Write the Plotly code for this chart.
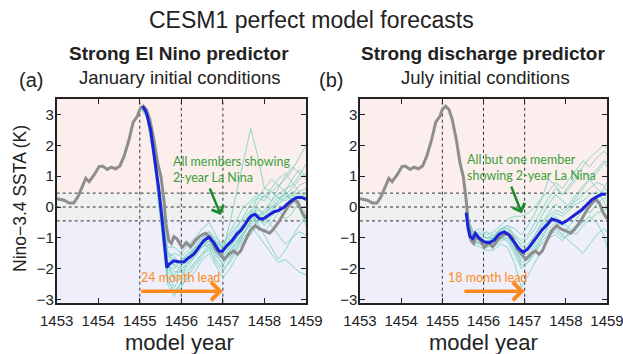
import plotly.graph_objects as go

W, H = 623, 354

# ---------------- data ----------------
years = [1453, 1454, 1455, 1456, 1457, 1458, 1459]
yticks = [-3, -2, -1, 0, 1, 2, 3]

# observed (truth) Nino-3.4 SSTA, same in both panels
truth_x = [1453.0, 1453.18, 1453.3, 1453.41, 1453.51, 1453.62, 1453.70, 1453.78, 1453.9, 1454.02,
           1454.1, 1454.22, 1454.31, 1454.42, 1454.52, 1454.62, 1454.74, 1454.84, 1454.94, 1455.0,
           1455.08, 1455.16, 1455.24, 1455.34, 1455.43, 1455.51, 1455.58, 1455.63, 1455.70, 1455.76,
           1455.82, 1455.9, 1456.02, 1456.12, 1456.22, 1456.34, 1456.46, 1456.58, 1456.70, 1456.82,
           1456.94, 1457.03, 1457.14, 1457.26, 1457.35, 1457.43, 1457.54, 1457.66, 1457.78, 1457.88,
           1457.98, 1458.12, 1458.22, 1458.34, 1458.46, 1458.56, 1458.66, 1458.74, 1458.82, 1458.9, 1459.0]
truth_y = [0.27, 0.22, 0.13, 0.13, 0.33, 0.65, 0.93, 0.82, 1.04, 1.31,
           1.33, 1.22, 1.29, 1.24, 1.33, 1.64, 2.18, 2.75, 2.94, 3.16,
           3.27, 3.16, 2.84, 2.18, 1.42, 0.98, 0.22, -0.55, -1.09, -1.18,
           -0.96, -1.04, -1.31, -1.15, -1.29, -1.07, -0.93, -0.85, -0.98, -1.36,
           -1.53, -1.69, -1.53, -1.42, -1.53, -1.42, -1.09, -0.76, -0.60, -0.71,
           -0.76, -0.85, -0.71, -0.49, -0.22, 0.0, 0.16, 0.24, 0.11, -0.16, -0.38]

# ensemble mean, panel (a): January initial conditions
mean_a_x = [1455.07, 1455.16, 1455.26, 1455.35, 1455.45, 1455.53, 1455.59, 1455.65, 1455.71, 1455.82,
            1455.94, 1456.06, 1456.18, 1456.30, 1456.42, 1456.54, 1456.66, 1456.78, 1456.9, 1456.98,
            1457.10, 1457.22, 1457.34, 1457.43, 1457.54, 1457.62, 1457.70, 1457.78, 1457.88, 1457.98,
            1458.10, 1458.22, 1458.34, 1458.46, 1458.56, 1458.66, 1458.78, 1458.9, 1459.0]
mean_a_y = [3.27, 3.05, 2.5, 1.64, 0.65, -0.33, -1.2, -1.96, -1.85, -1.74,
            -1.77, -1.78, -1.64, -1.53, -1.31, -1.09, -0.98, -1.15, -1.42, -1.44,
            -1.25, -1.09, -0.87, -0.76, -0.55, -0.38, -0.27, -0.24, -0.38, -0.38,
            -0.27, -0.16, -0.11, -0.02, 0.11, 0.22, 0.31, 0.31, 0.25]

# ensemble mean, panel (b): July initial conditions
mean_b_x = [1455.58, 1455.62, 1455.67, 1455.74, 1455.80, 1455.90, 1456.02, 1456.14, 1456.26, 1456.38,
            1456.50, 1456.62, 1456.74, 1456.86, 1456.96, 1457.06, 1457.18, 1457.30, 1457.42, 1457.54,
            1457.66, 1457.79, 1457.91, 1458.03, 1458.15, 1458.27, 1458.39, 1458.51, 1458.63, 1458.75,
            1458.87, 1458.97]
mean_b_y = [-0.18, -0.64, -0.96, -1.02, -0.85, -1.02, -1.13, -1.16, -1.07, -0.88,
            -0.80, -0.91, -1.13, -1.35, -1.46, -1.38, -1.18, -0.96, -0.74, -0.58,
            -0.39, -0.44, -0.53, -0.44, -0.31, -0.20, -0.09, 0.08, 0.24, 0.33,
            0.41, 0.41]

# ensemble members, panel (a)
members_a_x = [1455.0, 1455.17, 1455.33, 1455.5, 1455.67, 1455.83, 1456.0, 1456.17, 1456.33, 1456.5,
               1456.67, 1456.83, 1457.0, 1457.17, 1457.33, 1457.5, 1457.67, 1457.83, 1458.0, 1458.17,
               1458.33, 1458.5, 1458.67, 1458.83, 1459.0]
member_a01 = [3.27, 3.0, 1.9, 0.1, -1.6, -1.5, -1.6, -1.4, -1.2, -0.9, -0.8, -1.1, -1.3, -1.0, -0.7, -0.3, 0.1, 0.3, 0.2, 0.5, 0.7, 0.9, 1.2, 1.6, 2.0]
member_a02 = [3.27, 2.95, 1.7, -0.2, -2.2, -2.6, -2.2, -2.0, -1.8, -1.5, -1.4, -1.7, -2.0, -1.8, -1.4, -1.1, -0.9, -0.6, -0.8, -0.5, -0.2, 0.0, 0.3, 0.5, 0.6]
member_a03 = [3.27, 3.05, 2.0, 0.3, -1.3, -1.3, -1.5, -1.2, -1.0, -0.7, -0.5, -0.9, -1.4, -0.5, 0.5, 1.5, 2.55, 1.7, 0.6, 0.5, 0.3, 0.4, 0.2, 0.1, -0.2]
member_a04 = [3.27, 2.9, 1.6, -0.4, -2.5, -2.9, -2.4, -2.1, -1.8, -1.5, -1.2, -1.6, -1.8, -1.4, -1.1, -0.8, -0.6, -0.9, -1.2, -1.5, -1.8, -1.7, -1.9, -2.1, -2.2]
member_a05 = [3.27, 3.0, 1.8, 0.0, -1.9, -2.0, -1.7, -1.5, -1.3, -1.0, -0.8, -1.0, -1.2, -0.8, -0.4, 0.0, 0.2, 0.4, 0.3, 0.6, 0.9, 1.1, 0.8, 0.5, 0.3]
member_a06 = [3.27, 2.95, 1.75, -0.1, -2.1, -2.3, -2.0, -1.8, -1.6, -1.2, -1.1, -1.5, -1.7, -1.4, -1.2, -0.9, -0.5, -0.2, -0.4, -0.1, 0.2, 0.4, 0.6, 0.9, 1.1]
member_a07 = [3.27, 3.0, 1.85, 0.2, -1.5, -1.6, -1.9, -1.7, -1.4, -1.1, -0.9, -1.2, -1.5, -1.2, -0.9, -0.6, -0.4, 0.0, -0.3, -0.6, -0.9, -1.2, -1.0, -0.8, -0.9]
member_a08 = [3.27, 2.9, 1.65, -0.3, -2.4, -2.7, -2.5, -2.3, -2.1, -1.7, -1.5, -1.9, -2.3, -2.0, -1.6, -1.2, -0.8, -0.4, -0.5, -0.2, 0.1, 0.3, 0.5, 0.4, 0.2]
member_a09 = [3.27, 3.05, 1.95, 0.2, -1.7, -1.8, -1.8, -1.5, -1.4, -1.1, -1.0, -1.3, -1.6, -1.3, -1.0, -0.7, -0.5, -0.3, -0.1, 0.2, 0.4, 0.6, 0.7, 1.0, 1.4]
member_a10 = [3.27, 3.0, 1.8, 0.0, -2.0, -2.2, -1.9, -1.7, -1.5, -1.2, -1.1, -1.4, -1.5, -1.1, -0.8, -0.5, -0.2, -0.5, -0.9, -1.3, -1.7, -1.4, -1.0, -0.6, -0.4]
member_a11 = [3.27, 2.95, 1.7, -0.2, -2.3, -2.8, -2.6, -2.2, -1.9, -1.6, -1.3, -1.5, -1.9, -1.5, -1.2, -0.8, -0.6, -0.3, -0.2, 0.1, 0.3, 0.2, 0.4, 0.7, 0.8]
member_a12 = [3.27, 3.0, 1.9, 0.1, -1.8, -1.9, -1.7, -1.6, -1.3, -1.0, -0.9, -1.1, -1.4, -1.2, -0.9, -0.7, -0.3, -0.1, -0.2, 0.0, 0.1, 0.3, 0.4, 0.3, 0.4]
member_a13 = [3.27, 2.95, 1.8, 0.0, -1.9, -2.1, -2.1, -1.9, -1.6, -1.3, -1.2, -1.4, -1.6, -1.3, -1.0, -0.6, -0.2, 0.3, 0.6, 0.9, 0.7, 0.5, 0.2, 0.0, -0.6]
member_a14 = [3.27, 3.0, 1.85, 0.1, -1.6, -1.7, -1.8, -1.6, -1.4, -1.1, -1.0, -1.3, -1.7, -1.6, -1.3, -1.0, -0.7, -0.5, -0.3, 0.0, 0.2, 0.5, 0.9, 1.2, 1.0]
member_a15 = [3.27, 2.95, 1.75, -0.1, -1.8, -2.4, -2.3, -1.7, -1.3, -1.2, -1.3, -1.8, -2.1, -1.7, -1.3, -0.9, -0.4, 0.1, 0.4, 0.2, 0.6, 1.0, 1.3, 1.1, 0.9]
member_a16 = [3.27, 3.0, 1.85, 0.05, -1.4, -1.9, -2.0, -1.8, -1.5, -1.3, -1.1, -1.2, -1.2, -0.9, -0.6, -0.4, -0.1, -0.3, -0.6, -0.3, -0.1, -0.4, -0.2, 0.2, 0.5]
members_a = [member_a01, member_a02, member_a03, member_a04, member_a05, member_a06, member_a07,
             member_a08, member_a09, member_a10, member_a11, member_a12, member_a13, member_a14,
             member_a15, member_a16]

# ensemble members, panel (b)
members_b_x = [1455.58, 1455.75, 1455.92, 1456.08, 1456.25, 1456.42, 1456.58, 1456.75, 1456.92, 1457.08,
               1457.25, 1457.42, 1457.58, 1457.75, 1457.92, 1458.08, 1458.25, 1458.42, 1458.58, 1458.75,
               1458.92, 1459.0]
member_b01 = [-0.18, -0.9, -0.8, -1.0, -1.0, -0.7, -0.6, -0.9, -1.1, -0.9, -0.5, -0.1, 0.3, 0.6, 0.4, 0.7, 1.0, 1.3, 1.6, 1.8, 2.0, 1.9]
member_b02 = [-0.18, -1.1, -1.2, -1.3, -1.2, -1.0, -1.0, -1.4, -1.9, -1.8, -1.5, -1.1, -0.9, -0.8, -1.0, -0.9, -0.7, -0.5, -0.3, -0.5, -0.9, -1.3]
member_b03 = [-0.18, -0.8, -0.7, -0.9, -0.8, -0.6, -0.4, -0.3, -0.3, -0.2, 0.0, 0.3, 0.5, 0.8, 0.6, 0.9, 1.2, 1.5, 1.3, 1.6, 1.8, 1.7]
member_b04 = [-0.18, -1.2, -1.3, -1.4, -1.4, -1.2, -1.3, -1.8, -2.6, -2.2, -1.8, -1.4, -1.0, -0.7, -0.9, -0.6, -0.4, -0.1, 0.2, 0.3, 0.5, 0.4]
member_b05 = [-0.18, -1.0, -1.1, -1.1, -1.0, -0.8, -0.9, -1.2, -1.5, -1.3, -0.9, -0.6, -0.3, -0.1, -0.2, 0.0, 0.2, 0.4, 0.6, 0.8, 0.7, 0.5]
member_b06 = [-0.18, -1.05, -1.0, -1.2, -1.3, -1.1, -1.0, -1.3, -1.7, -1.6, -1.3, -1.0, -0.8, -0.7, -0.9, -1.1, -1.3, -1.5, -1.2, -0.9, -0.7, -0.8]
member_b07 = [-0.18, -0.95, -1.0, -1.0, -0.9, -0.7, -0.7, -1.0, -1.2, -1.0, -0.7, -0.3, 0.1, 0.4, 0.2, 0.0, 0.3, 0.6, 0.9, 1.1, 1.4, 1.5]
member_b08 = [-0.18, -1.1, -1.15, -1.2, -1.1, -0.9, -0.9, -1.2, -1.6, -1.5, -1.2, -0.9, -0.7, -0.5, -0.6, -0.4, -0.2, 0.0, -0.2, 0.1, 0.3, 0.2]
member_b09 = [-0.18, -1.0, -1.1, -1.3, -1.2, -1.0, -1.1, -1.5, -2.0, -1.8, -1.4, -1.0, -0.6, -0.3, -0.5, -0.7, -0.9, -0.6, -0.4, -0.2, -0.1, 0.0]
member_b10 = [-0.18, -0.9, -0.95, -1.0, -1.0, -0.7, -0.7, -0.9, -1.3, -1.2, -0.9, -0.5, -0.2, 0.1, -0.1, 0.1, 0.4, 0.7, 0.9, 0.6, 0.4, 0.3]
member_b11 = [-0.18, -1.15, -1.2, -1.1, -1.2, -1.0, -0.9, -1.3, -1.8, -1.7, -1.4, -1.2, -1.0, -0.9, -1.1, -0.8, -0.6, -0.3, 0.0, 0.3, 0.6, 0.8]
member_b12 = [-0.18, -1.0, -1.05, -1.15, -1.0, -0.8, -0.8, -1.1, -1.4, -1.3, -1.0, -0.7, -0.4, -0.2, -0.3, -0.1, 0.1, 0.2, 0.4, 0.5, 0.2, -0.1]
member_b13 = [-0.18, -0.85, -0.9, -0.8, -0.95, -0.75, -0.6, -0.7, -0.9, -0.6, -0.2, 0.3, 0.9, 0.7, 0.4, 0.6, 0.9, 1.1, 1.0, 1.2, 1.5, 1.3]
members_b = [member_b01, member_b02, member_b03, member_b04, member_b05, member_b06,
             member_b07, member_b08, member_b09, member_b10, member_b11, member_b12, member_b13]

# ---------------- styling ----------------
TEAL = "#7fd3c2"
BLUE = "#1c22d8"
GRAY = "#8e8e8e"
ORANGE = "#ff8a1c"
GREEN_TXT = "#3aa13a"
GREEN_ARR = "#1b8a2a"
FONT = "Liberation Sans, Arial, sans-serif"
ANNFONT = "Lato, sans-serif"

XRANGE = [1453, 1459]
YRANGE = [-3.1, 3.5]
XDOM_A = [56.7 / W, 306 / W]
XDOM_B = [360 / W, 607 / W]
YDOM = [(H - 302.7) / H, (H - 99) / H]

fig = go.Figure()

panels = [("x", "y", members_a_x, members_a, mean_a_x, mean_a_y),
          ("x2", "y2", members_b_x, members_b, mean_b_x, mean_b_y)]
for xa, ya, mx, mems, bx, by in panels:
    for m in mems:
        fig.add_trace(go.Scatter(x=mx, y=m, mode="lines", xaxis=xa, yaxis=ya,
                                 line=dict(color=TEAL, width=0.9), showlegend=False, hoverinfo="skip"))
    fig.add_trace(go.Scatter(x=truth_x, y=truth_y, mode="lines", xaxis=xa, yaxis=ya,
                             line=dict(color=GRAY, width=3), showlegend=False))
    fig.add_trace(go.Scatter(x=bx, y=by, mode="lines", xaxis=xa, yaxis=ya,
                             line=dict(color=BLUE, width=3), showlegend=False))

shapes = []
for xr, yr in [("x", "y"), ("x2", "y2")]:
    for y0, y1, c in [(0.45, 3.5, "#fdeeee"), (-0.45, 0.45, "#eff0f0"), (-3.1, -0.45, "#eeeffa")]:
        shapes.append(dict(type="rect", xref=xr, yref=yr, x0=1453, x1=1459, y0=y0, y1=y1,
                           fillcolor=c, line=dict(width=0), layer="below"))
    for yv in [0.45, 0, -0.45]:
        shapes.append(dict(type="line", xref=xr, yref=yr, x0=1453, x1=1459, y0=yv, y1=yv,
                           line=dict(color="#333333", width=1, dash="dot"), layer="below"))
    for xv in [1455, 1456, 1457]:
        shapes.append(dict(type="line", xref=xr, yref=yr, x0=xv, x1=xv, y0=-3.1, y1=3.5,
                           line=dict(color="#333333", width=1, dash="dot"), layer="below"))

axis_common = dict(showline=True, linecolor="#222222", linewidth=1.5, mirror="ticks",
                   ticks="inside", ticklen=5, tickcolor="#222222", showgrid=False, zeroline=False,
                   automargin=False, ticklabeloverflow="allow",
                   tickfont=dict(family=FONT, size=15, color="#222222"))

fig.update_layout(
    width=W, height=H, margin=dict(l=0, r=0, t=0, b=0, autoexpand=False),
    paper_bgcolor="white", plot_bgcolor="white",
    shapes=shapes,
    xaxis=dict(domain=XDOM_A, range=XRANGE, tickvals=years, anchor="y", ticklabelstandoff=4, **axis_common),
    yaxis=dict(domain=YDOM, range=YRANGE, tickvals=yticks, anchor="x", ticklabelstandoff=-2, **axis_common),
    xaxis2=dict(domain=XDOM_B, range=XRANGE, tickvals=years, anchor="y2", ticklabelstandoff=4, **axis_common),
    yaxis2=dict(domain=YDOM, range=YRANGE, tickvals=yticks, anchor="x2", ticklabelstandoff=-2, **axis_common),
)

def px(x, y):
    return x / W, (H - y) / H

anns = []
def text(x, y, s, size, color="#222222", bold=False, family=FONT, angle=0, xanchor="center"):
    xp, yp = px(x, y)
    anns.append(dict(x=xp, y=yp, xref="paper", yref="paper", text=(f"<b>{s}</b>" if bold else s),
                     showarrow=False, xanchor=xanchor, yanchor="middle", textangle=angle,
                     font=dict(family=family, size=size, color=color)))

text(311, 20, "CESM1 perfect model forecasts", 23)
text(179, 53, "Strong El Nino predictor", 19, bold=True)
text(180, 78, "January initial conditions", 18.5)
text(483, 53, "Strong discharge predictor", 19, bold=True)
text(485, 78, "July initial conditions", 18.5)
text(31, 80, "(a)", 20)
text(331, 80, "(b)", 20)
text(179, 342, "model year", 22)
text(483, 342, "model year", 22)
text(20, 199, "Nino−3.4 SSTA (K)", 17.5, angle=-90)

# in-panel annotations
for xr, yr, lx, ly, s, gx0, gy0, gx1, gy1, ox0, lead, lx2 in [
        ("x", "y", 1455.78, 1.23, "All members showing<br>2-year La Nina", 1456.67, 0.65, 1456.95, -0.26, 1455.0, "24 month lead", 1455.98),
        ("x2", "y2", 1455.58, 1.29, "All but one member<br>showing 2-year La Nina", 1456.66, 0.71, 1456.93, -0.2, 1455.5, "18 month lead", 1456.1)]:
    anns.append(dict(x=lx, y=ly, xref=xr, yref=yr, text=s, showarrow=False, xanchor="left",
                     yanchor="middle", align="left", borderpad=0,
                     font=dict(family=ANNFONT, size=12.5, color=GREEN_TXT)))
    anns.append(dict(x=gx1, y=gy1, ax=gx0, ay=gy0, xref=xr, yref=yr, axref=xr, ayref=yr, text="",
                     showarrow=True, arrowhead=4, arrowsize=1.0, arrowwidth=2.5, arrowcolor=GREEN_ARR))
    anns.append(dict(x=lx2, y=-2.27, xref=xr, yref=yr, text=lead, showarrow=False,
                     font=dict(family=ANNFONT, size=12.5, color=ORANGE)))
    anns.append(dict(x=1457.0, y=-2.73, ax=ox0, ay=-2.73, xref=xr, yref=yr, axref=xr, ayref=yr,
                     text="", showarrow=True, arrowhead=4, arrowsize=1.0, arrowwidth=3.5,
                     arrowcolor=ORANGE))

fig.update_layout(annotations=anns)
fig.write_html("out.html")
